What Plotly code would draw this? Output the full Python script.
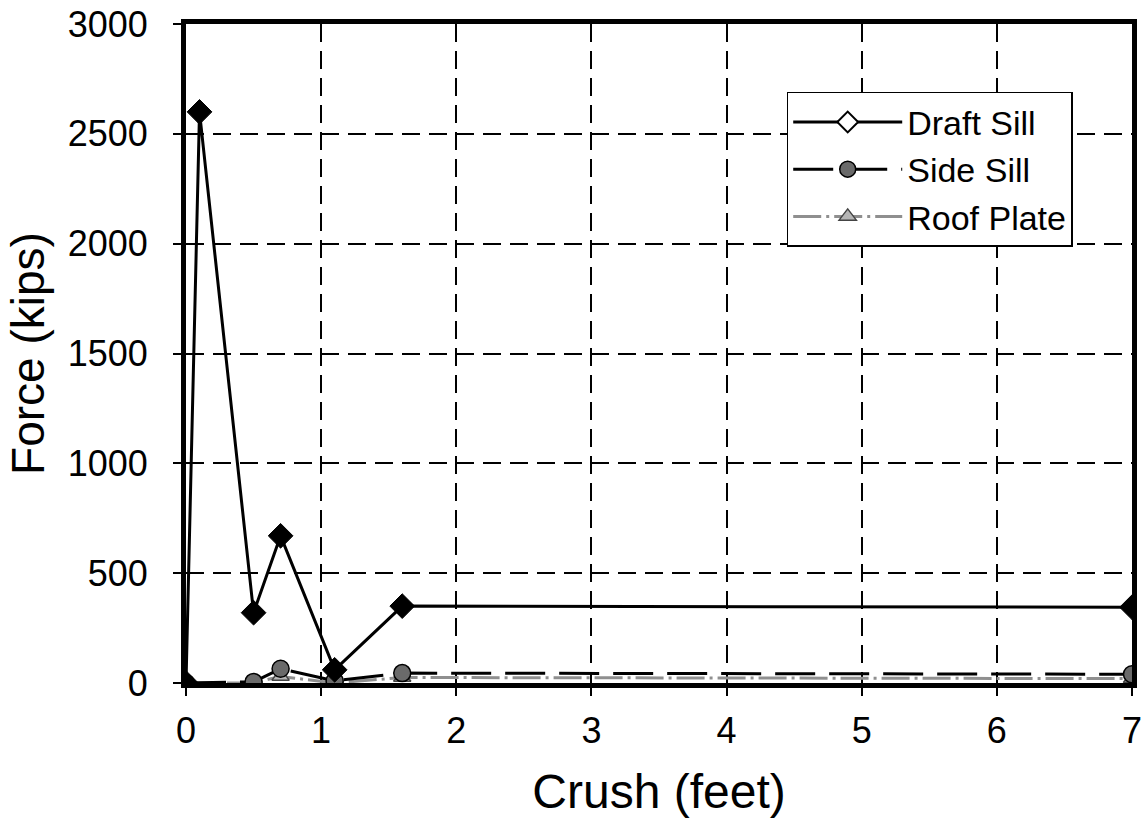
import plotly.graph_objects as go

crush = [0, 0.1, 0.5, 0.7, 1.1, 1.6, 7]
crush_small = [0, 0.5, 0.7, 1.1, 1.6, 7]
draft_sill = [0, 2600, 320, 670, 60, 350, 345]
side_sill = [0, 5, 65, 10, 45, 40]
roof_plate = [0, 0, 30, 0, 25, 20]

FONT = "Liberation Sans, Arial, sans-serif"

ROOF_LINE = dict(color="#8f8f8f", width=3, dash="28px,5px,3px,5px")
SIDE_LINE = dict(color="black", width=3, dash="40px,14px")
DRAFT_LINE = dict(color="black", width=3)

fig = go.Figure()

fig.add_trace(go.Scatter(x=crush_small, y=roof_plate, mode="lines+markers",
    line=ROOF_LINE,
    marker=dict(symbol="triangle-up", size=15, color="#b5b5b5", line=dict(color="#444444", width=1.5)),
    showlegend=False))
fig.add_trace(go.Scatter(x=crush_small, y=side_sill, mode="lines+markers",
    line=SIDE_LINE,
    marker=dict(symbol="circle", size=17, color="#6a6a6a", line=dict(color="black", width=1.5)),
    showlegend=False))
fig.add_trace(go.Scatter(x=crush, y=draft_sill, mode="lines+markers",
    line=DRAFT_LINE,
    marker=dict(symbol="diamond", size=19, color="black", line=dict(color="black", width=1)),
    showlegend=False))

# legend entries
fig.add_trace(go.Scatter(x=[None], y=[None], mode="lines+markers", name="Draft Sill",
    line=DRAFT_LINE,
    marker=dict(symbol="diamond", size=19, color="white", line=dict(color="black", width=2))))
fig.add_trace(go.Scatter(x=[None], y=[None], mode="lines+markers", name="Side Sill",
    line=SIDE_LINE,
    marker=dict(symbol="circle", size=17, color="#6a6a6a", line=dict(color="black", width=1.5))))
fig.add_trace(go.Scatter(x=[None], y=[None], mode="lines+markers", name="Roof Plate",
    line=ROOF_LINE,
    marker=dict(symbol="triangle-up", size=15, color="#b5b5b5", line=dict(color="#444444", width=1.5))))

fig.update_layout(
    width=1146, height=818,
    paper_bgcolor="white", plot_bgcolor="white",
    margin=dict(l=186, r=14, t=24, b=135, autoexpand=False),
    font=dict(family=FONT, size=36, color="black"),
    legend=dict(x=0.635, y=0.897, xanchor="left", yanchor="top",
                bgcolor="white", bordercolor="black", borderwidth=1.5,
                font=dict(size=34), itemwidth=109, tracegroupgap=0),
    xaxis=dict(range=[0, 7], tickvals=[0, 1, 2, 3, 4, 5, 6, 7],
               showgrid=True, gridcolor="black", griddash="18px,9px", gridwidth=1.5,
               showline=True, linecolor="black", linewidth=5, mirror=True,
               ticks="outside", ticklen=8, tickwidth=2, tickcolor="black",
               zeroline=False, automargin=False, ticklabelstandoff=4,
               ticklabeloverflow="allow",
               title=dict(text="Crush (feet)", font=dict(size=48), standoff=28),
               tickfont=dict(size=36)),
    yaxis=dict(range=[0, 3000], dtick=500,
               showgrid=True, gridcolor="black", griddash="18px,9px", gridwidth=1.5,
               showline=True, linecolor="black", linewidth=5, mirror=True,
               ticks="outside", ticklen=8, tickwidth=2, tickcolor="black",
               zeroline=False, automargin=False, ticklabelstandoff=18,
               ticklabeloverflow="allow",
               title=dict(text="Force (kips)", font=dict(size=46), standoff=10),
               tickfont=dict(size=36)),
)

fig.write_html("out.html",
               config={"displayModeBar": False},
               post_script="document.body.style.margin='0';document.body.style.overflow='hidden';")
